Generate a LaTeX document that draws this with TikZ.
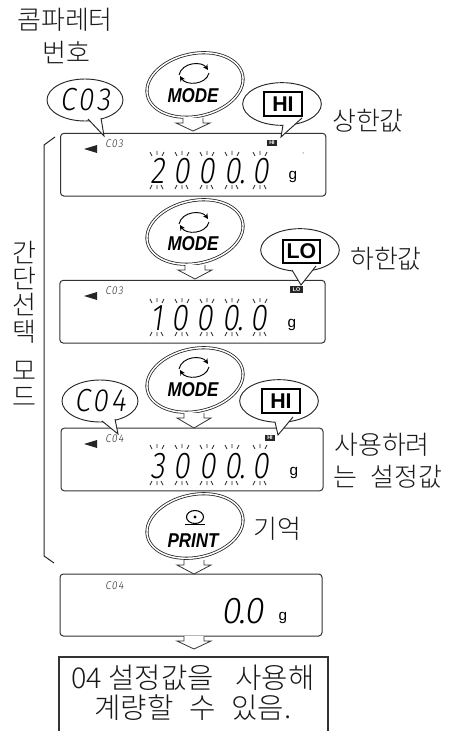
\documentclass[tikz,border=0pt]{standalone}
\usepackage{fontspec}
\usetikzlibrary{shapes.geometric,arrows.meta}
\newfontfamily\kr{Noto Sans CJK KR Light}
\newfontfamily\btn[FakeStretch=0.85]{Liberation Sans}
\newfontfamily\plain{Liberation Sans}
\newfontfamily\lcd[FakeStretch=0.8,FakeSlant=0.14,LetterSpace=24]{Fira Sans Light}
\newfontfamily\lcdcode[FakeStretch=0.88,FakeSlant=0.14,LetterSpace=10]{Fira Sans Light}
\newfontfamily\lcdwide[FakeStretch=0.95,FakeSlant=0.14,LetterSpace=4]{Fira Sans Light}
\tikzset{
 balloon/.style={ellipse,draw=black!85,fill=white,line width=.7pt,inner sep=0pt},
 btnring/.style={ellipse,draw=black!85,fill=white,double=white,double distance=1.1pt,line width=.6pt,inner sep=0pt,minimum width=73pt,minimum height=47pt,rotate=12},
 lcdbox/.style={draw=black!80,line width=.75pt,rounded corners=2.5pt,fill=white},
 hollow/.style={draw=black!80,line width=.6pt,fill=white,line join=miter},
 label/.style={font=\kr\fontsize{19.5}{20}\selectfont,inner sep=0pt,text=black!90},
 resulttext/.style={font=\kr\fontsize{21.5}{22}\selectfont,inner sep=0pt,text=black!90},
 btntext/.style={font=\btn\bfseries\itshape\fontsize{15}{15}\selectfont,inner sep=0pt},
 bigflag/.style={draw=black,line width=1.6pt,fill=white,inner sep=0pt,font=\plain\bfseries\fontsize{16}{16}\selectfont},
 smallflag/.style={fill=black!85,text=white,inner sep=0pt,font=\plain\bfseries\fontsize{4}{4}\selectfont},
 unit/.style={font=\plain\fontsize{11.5}{12}\selectfont,inner sep=0pt,anchor=base},
 readout/.style={font=\lcd\fontsize{28}{28}\selectfont,inner sep=0pt,anchor=base west,text=black},
 bigread/.style={font=\lcdwide\fontsize{28}{28}\selectfont,inner sep=0pt,anchor=base west,text=black},
 tinycode/.style={font=\lcdcode\fontsize{8.5}{8.5}\selectfont,inner sep=0pt,anchor=base west,text=black!85},
 bigcode/.style={font=\lcdcode\fontsize{24}{24}\selectfont,inner sep=0pt,text=black},
}
\newcommand{\dnarrow}[3]{\draw[hollow] (#1-10,#2) -- (#1-10,#2+5) -- (#1-17,#2+5) -- (#1,#3) -- (#1+17,#2+5) -- (#1+10,#2+5) -- (#1+10,#2);}
\newcommand{\tail}[3]{\fill[white] #1 -- #3 -- #2 -- cycle; \draw[black!85,line width=.7pt,line join=miter] #1 -- #3 -- #2;}
\newcommand{\pointer}[2]{\fill[black!85] (#1,#2) -- (#1+13,#2-4) -- (#1+13,#2+4) -- cycle;}
\newcommand{\blinkmarks}[3]{%
 \draw[black!85,line width=.6pt] (#1-5,#2+1) -- (#1-3,#2+5) (#1+2,#2) -- (#1+2,#2+4) (#1+9,#2+1) -- (#1+7,#2+5)
   (#1-3,#3) -- (#1-5,#3+4) (#1+2,#3) -- (#1+2,#3+4) (#1+6,#3) -- (#1+8,#3+4);}
\newcommand{\blinkrow}[2]{\blinkmarks{155}{#1}{#2}\blinkmarks{180}{#1}{#2}\blinkmarks{205}{#1}{#2}\blinkmarks{230}{#1}{#2}\blinkmarks{258}{#1}{#2}}
\newcommand{\modeicon}[2]{%
 \draw[-{Stealth[length=4pt,width=4pt]},line width=.7pt] (#1-15,#2+2) .. controls (#1-12,#2-11) and (#1+8,#2-12) .. (#1+14,#2-3);
 \draw[-{Stealth[length=4pt,width=4pt]},line width=.7pt] (#1+15,#2+0) .. controls (#1+12,#2+12) and (#1-8,#2+13) .. (#1-14,#2+3);}
\newcommand{\dotfix}{\kern-1pt.\kern5pt }
\begin{document}
\begin{tikzpicture}[x=.75pt,y=-.75pt]
\useasboundingbox (0,0) rectangle (454,731);
% titles
\node[label] (t1) at (65,20) {콤파레터};
\node[label] (t2) at (66,52) {번호};
\node[label] (hi1) at (368,121) {상한값};
\node[label] (lo1) at (386,259) {하한값};
\node[label] (use1) at (382,445) {사용하려};
\node[label] (use2) at (388,477) {는\hspace{.5em}설정값};
\node[label] (store) at (277,529) {기억};
% bracket
\coordinate (bt) at (55,137); \coordinate (bb) at (54,563);
\draw[black!85,line width=.75pt] (bt) -- (44,145) -- (44,556) -- (bb);
\node[label,align=center,font=\kr\fontsize{19.5}{19.7}\selectfont] (side) at (24,324) {간\\단\\선\\택\\[10pt]모\\드};
% displays
\node[lcdbox,minimum width=199pt,minimum height=47pt,inner sep=0pt] (d1) at (193.2,164.7) {};
\node[lcdbox,minimum width=199pt,minimum height=47pt,inner sep=0pt] (d2) at (192.5,311.7) {};
\node[lcdbox,minimum width=196.5pt,minimum height=47pt,inner sep=0pt] (d3) at (192,459.5) {};
\node[lcdbox,minimum width=196.5pt,minimum height=46.5pt,inner sep=0pt] (d4) at (191,605) {};
% buttons
\node[btnring] (b1) at (195,85) {};
\node[btnring] (b2) at (195,232) {};
\node[btnring] (b3) at (195,380) {};
\node[btnring] (b4) at (195,526) {};
\modeicon{194}{73}\modeicon{194}{222}\modeicon{194}{367}
\node[btntext] (m1) at (193,96) {MODE};
\node[btntext] (m2) at (193,244) {MODE};
\node[btntext] (m3) at (193,390) {MODE};
\node[btntext] (p1) at (193,541) {PRINT};
\draw[line width=.8pt] (195,517) circle (8.5 and 6.5);
\fill (195,517) circle (1.7);
\draw[line width=.9pt] (185,524.5) -- (205,524.5);
% arrows
\dnarrow{193}{118}{131}\dnarrow{195}{265}{279}\dnarrow{194}{413}{428}\dnarrow{194}{560}{574}\dnarrow{194}{636}{649}
% balloons
\node[balloon,minimum width=57pt,minimum height=31.5pt] (c3) at (85,100) {};
\tail{(88,119)}{(101,118)}{(104,136)}
\node[bigcode] (c3t) at (85,100) {C03};
\node[balloon,minimum width=59pt,minimum height=32pt] (h1) at (282,104) {};
\tail{(283,125)}{(302,118)}{(281,137)}
\node[bigflag,minimum width=29pt,minimum height=17.5pt] (h1t) at (283,104) {HI};
\node[balloon,minimum width=59pt,minimum height=32pt] (l1) at (300,250) {};
\tail{(292,270)}{(316,266)}{(301,285)}
\node[bigflag,minimum width=27.5pt,minimum height=17.5pt] (l1t) at (301.5,251.5) {LO};
\node[balloon,minimum width=57pt,minimum height=31.5pt] (c4) at (100,401) {};
\tail{(102,421)}{(115,419)}{(118,434)}
\node[bigcode] (c4t) at (100,401) {C04};
\node[balloon,minimum width=59pt,minimum height=32pt] (h2) at (279,401) {};
\tail{(275,422)}{(293,417)}{(278,435)}
\node[bigflag,minimum width=29pt,minimum height=17.5pt] (h2t) at (281,401) {HI};
% display contents
\pointer{84}{149}\pointer{84}{296}\pointer{84}{444}
\node[tinycode] (s1) at (105,147) {C03};
\node[tinycode] (s2) at (105,294) {C03};
\node[tinycode] (s3) at (105,442) {C04};
\node[tinycode] (s4) at (105,589) {C04};
\node[smallflag,minimum width=8pt,minimum height=5pt] (f1) at (272,143) {HI};
\node[smallflag,minimum width=9.5pt,minimum height=5.5pt] (f2) at (296.5,289.5) {LO};
\node[smallflag,minimum width=8pt,minimum height=5pt] (f3) at (270,438) {HI};
\fill (303,153) circle (.5);
\node[readout] (v1) at (150,183) {2000\dotfix 0};
\node[readout] (v2) at (150,330) {1000\dotfix 0};
\node[readout] (v3) at (150,478) {3000\dotfix 0};
\node[bigread] (v4) at (221,623) {0\kern-1.5pt.\kern-1pt 0};
\blinkrow{151}{185}\blinkrow{298}{332}\blinkrow{444}{481}
\node[unit] (g1) at (293,180) {g};
\node[unit] (g2) at (292,327) {g};
\node[unit] (g3) at (294,475) {g};
\node[unit] (g4) at (283,620) {g};
% result box
\coordinate (rl) at (59,731); \coordinate (rr) at (328,731);
\draw[black!80,line width=1pt] (rl) -- (59,657) -- (328,657) -- (rr);
\node[resulttext] (r1) at (193,678) {04 설정값을\hspace{.75em}사용해};
\node[resulttext] (r2) at (193,708) {계량할\hspace{.55em}수\hspace{.55em}있음.};
\end{tikzpicture}
\end{document}
